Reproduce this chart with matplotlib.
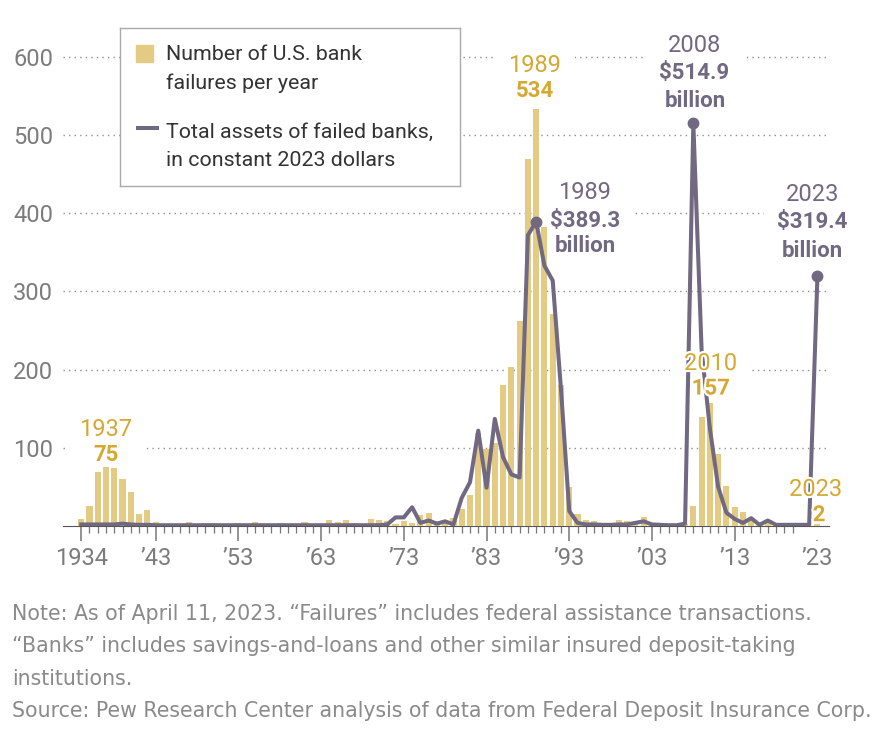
import matplotlib.pyplot as plt
import matplotlib.patheffects as pe
from matplotlib.patches import Rectangle
import numpy as np

plt.rcParams['font.family'] = ['Roboto', 'DejaVu Sans']

years = np.arange(1934, 2024)

# number of bank failures per year, 1934-2023
failures = [9, 25, 69, 75, 74, 60, 43, 15, 20, 5,
            2, 1, 1, 5, 3, 4, 4, 2, 3, 4,
            2, 5, 2, 1, 4, 3, 1, 5, 1, 2,
            8, 5, 8, 4, 3, 9, 8, 6, 3, 6,
            4, 14, 17, 6, 7, 10, 22, 40, 119, 99,
            106, 180, 204, 262, 470, 534, 382, 271, 181, 50,
            15, 8, 6, 1, 3, 8, 7, 4, 11, 3,
            4, 0, 0, 3, 25, 140, 157, 92, 51, 24,
            18, 8, 5, 8, 0, 4, 4, 0, 0, 2]

# total assets of failed banks, billions of 2023 dollars
assets = [2, 2, 2, 2, 2, 3, 2, 1.5, 1.5, 1,
          1, 1, 1, 1, 1, 1, 1, 1, 1, 1,
          1, 1, 1, 1, 1, 1, 1, 1, 1, 1,
          1, 1, 1, 1, 1, 1, 1, 2, 11, 11,
          24, 4, 7, 3, 6, 2, 36, 56, 122, 49,
          137, 88, 66, 62, 372, 389.3, 333, 314, 175, 19,
          4, 2, 2, 1.5, 1.5, 2, 2, 4, 6, 2,
          1.5, 1, 1, 3, 514.9, 225, 125, 50, 17, 9,
          4, 10, 1.5, 7, 1.5, 1.5, 1.5, 1.5, 1.5, 319.4]

tick_years = [1934, 1943, 1953, 1963, 1973, 1983, 1993, 2003, 2013, 2023]
tick_labels = ['1934', '\u201943', '\u201953', '\u201963', '\u201973',
               '\u201983', '\u201993', '\u201903', '\u201913', '\u201923']
y_ticks = [100, 200, 300, 400, 500, 600]
marked_years = [1989, 2008, 2023]

gold = '#E4CB84'
gold_text = '#D4A833'
purple = '#716882'
gray = '#7c7c7c'

fig = plt.figure(figsize=(8.77, 7.31), dpi=100)
ax = fig.add_axes([63 / 877, 0.28044, 766 / 877, 0.6951])

ax.bar(years, failures, width=0.74, color=gold, zorder=2)
ax.plot(years, assets, color=purple, lw=2.9, solid_joinstyle='round', zorder=3)
idx = [list(years).index(y) for y in marked_years]
ax.plot(years[idx], np.array(assets)[idx], 'o', color=purple, ms=7.5, zorder=3)

ax.set_xlim(1931.8, 2024.4)
ax.set_ylim(0, 650)
ax.set_yticks(y_ticks)
ax.set_yticklabels([str(v) for v in y_ticks])
ax.set_xticks(tick_years)
ax.set_xticklabels(tick_labels)
ax.set_xticks(years, minor=True)
ax.tick_params(axis='y', length=0, pad=7, labelsize=17, labelcolor=gray)
ax.tick_params(axis='x', which='major', length=11, width=1.1, color='#777777',
               pad=4, labelsize=17, labelcolor=gray)
ax.tick_params(axis='x', which='minor', length=5, width=0.9, color='#777777')
ax.grid(axis='y', color='#8f8f8f', lw=1, linestyle=(0, (1, 3)))
ax.set_axisbelow(True)
for s in ['top', 'right', 'left']:
    ax.spines[s].set_visible(False)
ax.spines['bottom'].set_color('#555555')
ax.spines['bottom'].set_zorder(1)


def label(x, y, s, color, size, weight='normal', halo=False):
    # white box behind the text hides the gridline, but stays under bars and line
    ax.text(x, y, s, color='none', fontsize=size, fontweight=weight, ha='center',
            va='center_baseline', zorder=1,
            bbox=dict(fc='white', ec='none', boxstyle='square,pad=0.6'))
    t = ax.text(x, y, s, color=color, fontsize=size, fontweight=weight, ha='center',
                va='center_baseline', zorder=5)
    if halo:
        t.set_path_effects([pe.withStroke(linewidth=3, foreground='white')])


label(1936.9, 126.6, '1937', gold_text, 17)
label(1937.0, 93.4, '75', gold_text, 16, 'bold')
label(1988.75, 592, '1989', gold_text, 17)
label(1988.8, 560, '534', gold_text, 16, 'bold')
label(1994.9, 430, '1989', purple, 17)
label(1994.9, 394, '$389.3', purple, 16, 'bold')
label(1994.9, 361, 'billion', purple, 16, 'bold')
label(2008.2, 618, '2008', purple, 17)
label(2008.1, 583, '$514.9', purple, 16, 'bold')
label(2008.2, 547.5, 'billion', purple, 16, 'bold')
label(2022.4, 427, '2023', purple, 17)
label(2022.4, 391.5, '$319.4', purple, 16, 'bold')
label(2022.4, 355.5, 'billion', purple, 16, 'bold')
label(2010.1, 211, '2010', gold_text, 17, halo=True)
label(2010.1, 179, '157', gold_text, 16, 'bold', halo=True)
label(2022.8, 50, '2023', gold_text, 17, halo=True)
label(2023.2, 17, '2', gold_text, 16, 'bold', halo=True)

# legend box
lax = fig.add_axes([120 / 877, 1 - 186 / 731, 340 / 877, 158 / 731], zorder=10)
lax.set_xlim(0, 340)
lax.set_ylim(158, 0)
lax.set_xticks([])
lax.set_yticks([])
for s in lax.spines.values():
    s.set_color('#aaaaaa')
    s.set_linewidth(1)
lax.add_patch(Rectangle((16, 17), 17, 17, color=gold))
lax.plot([16, 39], [100, 100], color=purple, lw=2.9, solid_capstyle='butt')
leg_kw = dict(fontsize=15.4, color='#333333', va='center_baseline', ha='left')
lax.text(46, 25, 'Number of U.S. bank', **leg_kw)
lax.text(46, 53.5, 'failures per year', **leg_kw)
lax.text(46, 102, 'Total assets of failed banks,', **leg_kw)
lax.text(46, 130, 'in constant 2023 dollars', **leg_kw)

note_lines = [
    'Note: As of April 11, 2023. \u201cFailures\u201d includes federal assistance transactions.',
    '\u201cBanks\u201d includes savings-and-loans and other similar insured deposit-taking',
    'institutions.',
    'Source: Pew Research Center analysis of data from Federal Deposit Insurance Corp.',
]
for i, line in enumerate(note_lines):
    fig.text(12 / 877, 1 - (612 + 32.3 * i) / 731, line, fontsize=14.8, color='#8a8a8a',
             family=['DejaVu Sans'], va='center_baseline', ha='left')

fig.savefig('out.png', dpi=100)
